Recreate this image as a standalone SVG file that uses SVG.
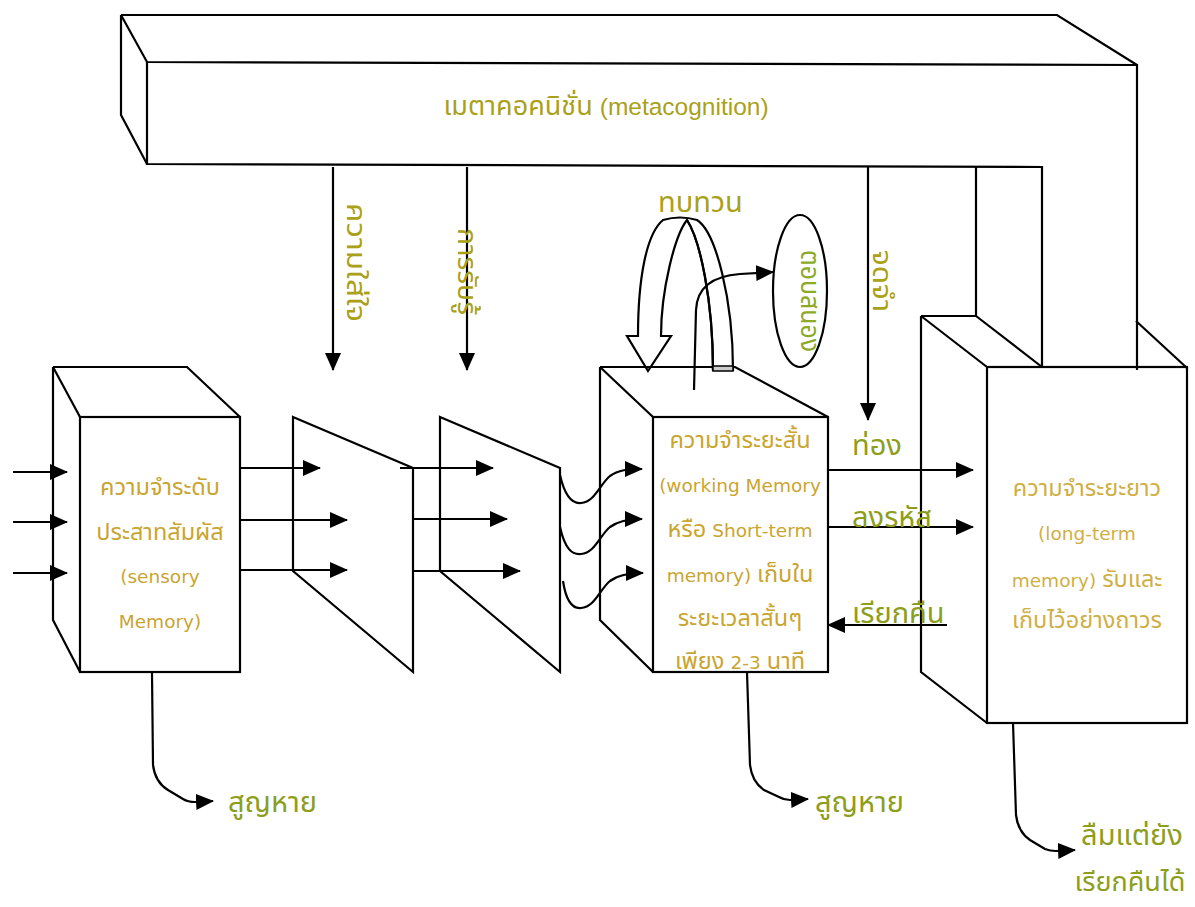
<svg xmlns="http://www.w3.org/2000/svg" width="1195" height="907" viewBox="0 0 1195 907">
<defs>
<marker id="ah" markerUnits="userSpaceOnUse" markerWidth="18" markerHeight="16" refX="17" refY="8" orient="auto">
<path d="M0,0 L18,8 L0,16 Z" fill="#000"/>
</marker>
</defs>
<style>
.ln{fill:none;stroke:#000;stroke-width:2.2;stroke-linejoin:miter}
.ar{fill:none;stroke:#000;stroke-width:2.2;marker-end:url(#ah)}
.bt{font-family:"DejaVu Sans","Noto Sans Thai",sans-serif;font-size:18.5px;fill:#C9A531;text-anchor:middle}
.th{font-family:"Noto Sans Thai","DejaVu Sans",sans-serif;font-size:23.5px}
.mt{font-family:"Liberation Sans","Noto Sans Thai",sans-serif;font-size:24.5px;fill:#A9A11A;text-anchor:middle}
.mth{font-family:"Noto Sans Thai","Liberation Sans",sans-serif;font-size:27px}
.lb{font-family:"Noto Sans Thai","DejaVu Sans",sans-serif;font-size:29px;fill:#8C9E1C}
.vt{font-family:"Noto Sans Thai","DejaVu Sans",sans-serif;font-size:26px;fill:#A9A117}
</style>
<rect width="1195" height="907" fill="#fff"/>

<g id="metacognition">
<path class="ln" d="M121,15 H1057 L1137,65"/>
<path class="ln" d="M121,15 V115 L147,164"/>
<path class="ln" d="M121,15 L147,62 L1137,65 V370"/>
<path class="ln" d="M147,62 V164 L1042,167 V367"/>
<path class="ln" d="M976,167 V316"/>
<text class="mt" x="606" y="115"><tspan class="mth">เมตาคอคนิชั่น </tspan>(metacognition)</text>
</g>

<g id="sensory-memory">
<path class="ln" d="M53,367 H187 L240,417"/>
<path class="ln" d="M53,367 L80,417"/>
<path class="ln" d="M53,367 V620 L80,672"/>
<rect class="ln" x="80" y="417" width="160" height="255"/>
<text class="bt" x="160" y="495"><tspan class="th">ความจำระดับ</tspan></text>
<text class="bt" x="160" y="540"><tspan class="th">ประสาทสัมผัส</tspan></text>
<text class="bt" x="160" y="583">(sensory</text>
<text class="bt" x="160" y="628">Memory)</text>
</g>

<g id="attention-filter">
<path class="ln" d="M293,417 L413,468 V672 L293,571 Z"/>
</g>

<g id="perception-filter">
<path class="ln" d="M440,417 L560,468 V672 L440,571 Z"/>
</g>

<g id="short-term-memory">
<path class="ln" d="M600,367 H735 L828,417"/>
<path class="ln" d="M600,367 L653,417"/>
<path class="ln" d="M600,367 V620 L653,672"/>
<rect class="ln" x="653" y="417" width="175" height="255"/>
<text class="bt" x="740" y="448"><tspan class="th">ความจำระยะสั้น</tspan></text>
<text class="bt" x="740" y="492">(working Memory</text>
<text class="bt" x="740" y="537"><tspan class="th">หรือ</tspan> Short-term</text>
<text class="bt" x="740" y="582">memory) <tspan class="th">เก็บใน</tspan></text>
<text class="bt" x="740" y="626"><tspan class="th">ระยะเวลาสั้นๆ</tspan></text>
<text class="bt" x="740" y="669"><tspan class="th">เพียง </tspan>2-3<tspan class="th"> นาที</tspan></text>
</g>

<g id="long-term-memory">
<path class="ln" d="M921,316 H976 L1042,367"/>
<path class="ln" d="M921,316 L987,367"/>
<path class="ln" d="M921,316 V672 L987,723"/>
<path class="ln" d="M1136,321 L1187,368"/>
<rect class="ln" x="987" y="367" width="200" height="356"/>
<text class="bt" x="1087" y="496" style="fill:#CFAF45"><tspan class="th">ความจำระยะยาว</tspan></text>
<text class="bt" x="1087" y="540" style="fill:#CFAF45">(long-term</text>
<text class="bt" x="1087" y="587" style="fill:#CFAF45">memory) <tspan class="th">รับและ</tspan></text>
<text class="bt" x="1087" y="628" style="fill:#CFAF45"><tspan class="th">เก็บไว้อย่างถาวร</tspan></text>
</g>

<g id="rehearsal">
<path class="ln" fill="#fff" d="M713,370 C713,300 700,240 687,220 C675,235 661,290 661,336 L671,336 L648,371 L627,336 L638,336 C638,280 646,234 663,220 Q680,215 697,220 C716,232 733,300 733,370 Z"/>
<path class="ln" d="M687,220 C700,240 713,300 713,370"/>
<rect x="713" y="366" width="20" height="5" fill="#ccc" stroke="#000" stroke-width="1.5"/>
<text class="lb" x="658" y="212" style="fill:#A9A117">ทบทวน</text>
</g>

<g id="response">
<ellipse class="ln" cx="800" cy="291" rx="27" ry="76"/>
<text class="vt" transform="translate(801,250) rotate(90)" textLength="102" lengthAdjust="spacingAndGlyphs" style="fill:#8CAA28">ตอบสนอง</text>
</g>

<g id="connectors">
<path class="ar" d="M13,472 H67"/>
<path class="ar" d="M13,522 H67"/>
<path class="ar" d="M13,573 H67"/>
<path class="ar" d="M240,468 H320"/>
<path class="ar" d="M240,520 H347"/>
<path class="ar" d="M240,570 H347"/>
<path class="ar" d="M400,468 H493"/>
<path class="ar" d="M413,519 H507"/>
<path class="ar" d="M413,571 H520"/>
<path class="ar" d="M560,475 C565,497 572,504 581,503 C595,502 600,484 610,476 C618,470 628,469 642,469"/>
<path class="ar" d="M560,527 C565,549 572,555 581,554 C595,553 600,535 610,527 C618,521 628,519 642,519"/>
<path class="ar" d="M563,581 C566,601 572,609 581,608 C595,607 600,589 610,581 C618,575 628,573 643,573"/>
<path class="ar" d="M333,167 V370"/>
<path class="ar" d="M467,167 V370"/>
<path class="ar" d="M868,167 V420"/>
<path class="ar" d="M828,470 H973"/>
<path class="ar" d="M828,527 H973"/>
<path class="ar" d="M947,625 H828"/>
<path class="ar" d="M694,390 L696,310 C697,287 712,276 740,274 L773,272"/>
<path class="ar" d="M152,673 L153,765 Q155,782 168,790 L183,799 Q188,802 195,802 L213,801"/>
<path class="ar" d="M747,672 L750,765 Q752,782 764,790 L779,797 Q784,800 790,800 L808,799"/>
<path class="ar" d="M1013,723 L1016,815 Q1018,832 1030,840 L1045,849 Q1050,851 1056,851 L1075,850"/>
<text class="vt" transform="translate(347,203) rotate(90)" textLength="119" lengthAdjust="spacingAndGlyphs">ความใส่ใจ</text>
<text class="vt" transform="translate(458,228) rotate(90)" textLength="87" lengthAdjust="spacingAndGlyphs">การรับรู้</text>
<text class="vt" transform="translate(873,250) rotate(90)" textLength="62" lengthAdjust="spacingAndGlyphs">จดจำ</text>
<text class="lb" x="852" y="455">ท่อง</text>
<text class="lb" x="852" y="527">ลงรหัส</text>
<text class="lb" x="852" y="623">เรียกคืน</text>
<text class="lb" x="228" y="812">สูญหาย</text>
<text class="lb" x="815" y="812">สูญหาย</text>
<text class="lb" x="1132" y="845" text-anchor="middle">ลืมแต่ยัง</text>
<text class="lb" x="1130" y="891" text-anchor="middle" style="font-size:27px">เรียกคืนได้</text>
</g>
</svg>
